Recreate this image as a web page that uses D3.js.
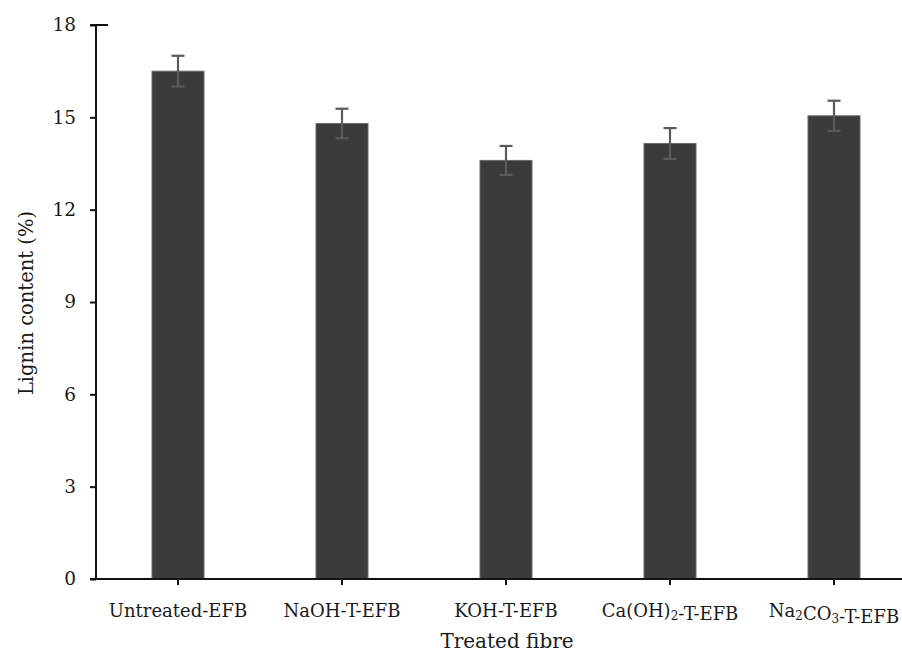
<!DOCTYPE html>
<html>
<head>
<meta charset="utf-8">
<script src="https://cdn.jsdelivr.net/npm/d3@7/dist/d3.min.js"></script>
<style>
  html, body { margin: 0; padding: 0; background: #fff; }
  svg text { font-family: "DejaVu Serif", "Liberation Serif", serif; fill: #1a1a1a; }
</style>
</head>
<body>
<svg id="chart" width="902" height="657"></svg>
<script>
// Lignin content of untreated and alkali-treated EFB fibre
const categories = ["Untreated-EFB", "NaOH-T-EFB", "KOH-T-EFB", "Ca(OH)2-T-EFB", "Na2CO3-T-EFB"];
const lignin = [16.5, 14.8, 13.6, 14.15, 15.05];
const errors = [0.5, 0.48, 0.47, 0.5, 0.49];
const yTicks = [0, 3, 6, 9, 12, 15, 18];

const svg = d3.select("#chart");
const x0 = 96, x1 = 916, yTop = 25, yBottom = 579;

const x = d3.scaleBand().domain(categories).range([x0, x1]).paddingInner(0).paddingOuter(0);
const y = d3.scaleLinear().domain([0, 18]).range([yBottom, yTop]);
const barW = x.bandwidth() * 0.317;

// bars
svg.append("g").selectAll("rect").data(categories).join("rect")
  .attr("x", d => x(d) + x.bandwidth() / 2 - barW / 2)
  .attr("y", (d, i) => y(lignin[i]))
  .attr("width", barW)
  .attr("height", (d, i) => y(0) - y(lignin[i]))
  .attr("fill", "#3b3b3b")
  .attr("stroke", "#6a6a6a")
  .attr("stroke-width", 1);

// error bars
const eb = svg.append("g").attr("stroke", "#5a5a5a").attr("stroke-width", 2.2);
categories.forEach((c, i) => {
  const cx = x(c) + x.bandwidth() / 2;
  const hi = y(lignin[i] + errors[i]), lo = y(lignin[i] - errors[i]);
  eb.append("line").attr("x1", cx).attr("x2", cx).attr("y1", hi).attr("y2", lo);
  eb.append("line").attr("x1", cx - 6.5).attr("x2", cx + 6.5).attr("y1", hi).attr("y2", hi);
  eb.append("line").attr("x1", cx - 6.5).attr("x2", cx + 6.5).attr("y1", lo).attr("y2", lo);
});

// y axis
const yAxis = svg.append("g").attr("transform", `translate(${x0},0)`)
  .call(d3.axisLeft(y).tickValues(yTicks).tickSize(6).tickPadding(14).tickFormat(d3.format("d")));
yAxis.select(".domain").attr("stroke", "#111").attr("stroke-width", 2).attr("d", `M0,${yTop}V${yBottom}`);
yAxis.selectAll(".tick line").attr("stroke", "#111").attr("stroke-width", 2);
yAxis.selectAll(".tick text").style("font-size", "18.5px").attr("fill", "#1a1a1a");
// top tick crosses the axis
svg.append("line").attr("x1", x0 - 6).attr("x2", x0 + 12).attr("y1", y(18)).attr("y2", y(18))
  .attr("stroke", "#111").attr("stroke-width", 2);

// x axis
const xAxis = svg.append("g").attr("transform", `translate(0,${yBottom})`)
  .call(d3.axisBottom(x).tickSize(6).tickPadding(14).tickFormat(""));
xAxis.select(".domain").attr("stroke", "#111").attr("stroke-width", 2).attr("d", `M${x0 - 6},0H${x1}`);
xAxis.selectAll(".tick line").attr("stroke", "#111").attr("stroke-width", 2);

// category labels with subscripted formula digits
const labelG = svg.append("g");
categories.forEach(c => {
  const t = labelG.append("text")
    .attr("x", x(c) + x.bandwidth() / 2)
    .attr("y", 617)
    .attr("text-anchor", "middle")
    .style("font-size", "18px");
  const parts = c.split(/(\d)/).filter(s => s.length);
  parts.forEach(p => {
    if (/^\d$/.test(p)) {
      t.append("tspan").text(p).style("font-size", "12px").attr("dy", 3);
      t.append("tspan").text("").attr("dy", -3);
    } else {
      t.append("tspan").text(p);
    }
  });
});

// axis titles
svg.append("text")
  .attr("x", 507).attr("y", 648)
  .attr("text-anchor", "middle")
  .style("font-size", "20px")
  .text("Treated fibre");

svg.append("text")
  .attr("transform", "translate(33,303) rotate(-90)")
  .attr("text-anchor", "middle")
  .style("font-size", "19.5px")
  .text("Lignin content (%)");
</script>
</body>
</html>
